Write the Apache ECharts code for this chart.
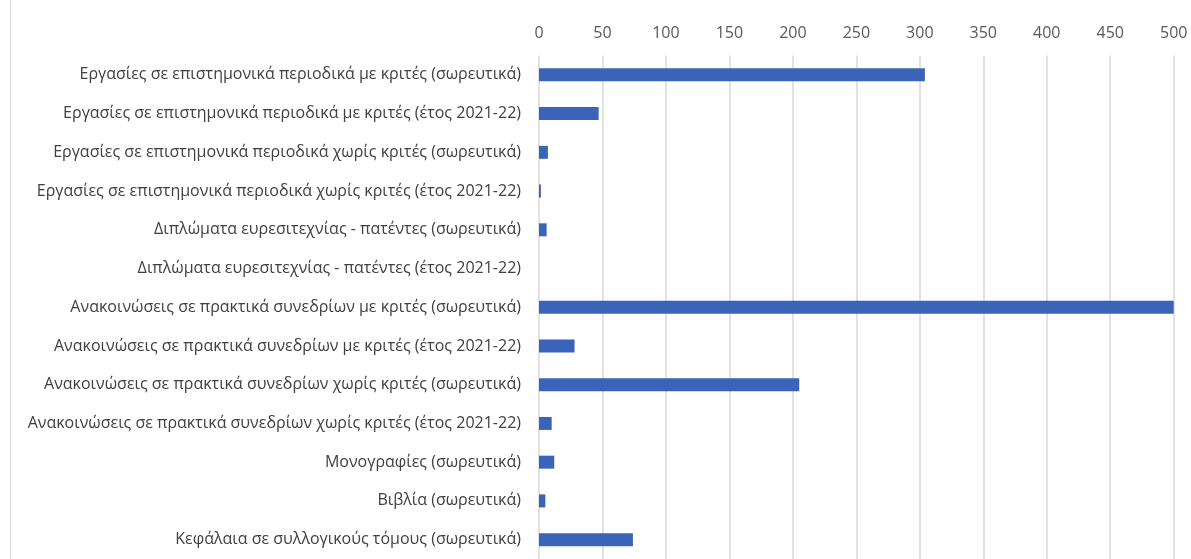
<!DOCTYPE html>
<html>
<head>
<meta charset="utf-8">
<script src="https://cdn.jsdelivr.net/npm/echarts@6/dist/echarts.min.js"></script>
<style>
	html, body { margin: 0; padding: 0; background: #ffffff; }
	#bar { width: 1191px; height: 559px; }
	.edge { position: absolute; left: 10px; top: 0; width: 1px; height: 559px; background: #d9d9d9; }
</style>
</head>
<body>
<div id="bar"></div>
<div class="edge"></div>
<script>
	// κατηγορίες (από πάνω προς τα κάτω)
	var categories = [
		'Εργασίες σε επιστημονικά περιοδικά με κριτές (σωρευτικά)',
		'Εργασίες σε επιστημονικά περιοδικά με κριτές (έτος 2021-22)',
		'Εργασίες σε επιστημονικά περιοδικά χωρίς κριτές (σωρευτικά)',
		'Εργασίες σε επιστημονικά περιοδικά χωρίς κριτές (έτος 2021-22)',
		'Διπλώματα ευρεσιτεχνίας - πατέντες (σωρευτικά)',
		'Διπλώματα ευρεσιτεχνίας - πατέντες (έτος 2021-22)',
		'Ανακοινώσεις σε πρακτικά συνεδρίων με κριτές (σωρευτικά)',
		'Ανακοινώσεις σε πρακτικά συνεδρίων με κριτές (έτος 2021-22)',
		'Ανακοινώσεις σε πρακτικά συνεδρίων χωρίς κριτές (σωρευτικά)',
		'Ανακοινώσεις σε πρακτικά συνεδρίων χωρίς κριτές (έτος 2021-22)',
		'Μονογραφίες (σωρευτικά)',
		'Βιβλία (σωρευτικά)',
		'Κεφάλαια σε συλλογικούς τόμους (σωρευτικά)'
	]
	var values = [304, 47, 7, 1.5, 6, 0, 510, 28, 205, 10, 12, 5, 74]
	var axisMin = 0
	var axisMax = 500
	var axisStep = 50

	var chart = echarts.init(document.getElementById('bar'))
	chart.setOption({
		backgroundColor: '#ffffff',
		animation: false,
		textStyle: { fontFamily: 'Open Sans' },
		grid: {
			left: 539,
			top: 55.5,
			width: 634.7,
			height: 507
		},
		xAxis: {
			type: 'value',
			position: 'top',
			min: axisMin,
			max: axisMax,
			interval: axisStep,
			axisLine: { show: false },
			axisTick: { show: false },
			axisLabel: { color: '#595959', fontSize: 16, margin: 14 },
			splitLine: { lineStyle: { color: '#d9d9d9', width: 1.5 } }
		},
		yAxis: {
			type: 'category',
			inverse: true,
			data: categories,
			axisLine: { show: false },
			axisTick: { show: false },
			axisLabel: { color: '#404040', fontSize: 16, margin: 18 }
		},
		series: [
			{
				type: 'bar',
				data: values,
				barWidth: 13,
				clip: true,
				itemStyle: { color: '#3a64b8', borderWidth: 0 }
			}
		]
	})
</script>
</body>
</html>
